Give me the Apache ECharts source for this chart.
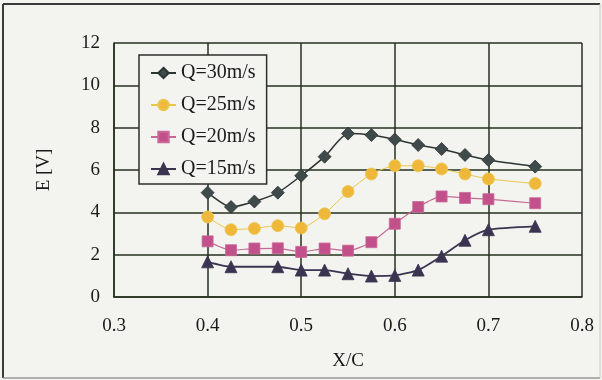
<!DOCTYPE html>
<html>
<head>
<meta charset="utf-8">
<script src="https://cdn.jsdelivr.net/npm/echarts@6/dist/echarts.min.js"></script>
<style>
  html, body { margin: 0; padding: 0; background: #f3f3ef; }
  #chart { width: 602px; height: 380px; }
</style>
</head>
<body>
<div id="chart"></div>
<script>
// Chordwise position X/C
const xc30 = [0.4, 0.425, 0.45, 0.475, 0.5, 0.525, 0.55, 0.575, 0.6, 0.625, 0.65, 0.675, 0.7, 0.75];
const xc15 = [0.4, 0.425, 0.475, 0.5, 0.525, 0.55, 0.575, 0.6, 0.625, 0.65, 0.675, 0.7, 0.75];

// Output voltage E [V] for each flow speed
const e30 = [4.93, 4.25, 4.51, 4.93, 5.73, 6.63, 7.72, 7.65, 7.44, 7.18, 6.99, 6.71, 6.47, 6.16];
const e25 = [3.78, 3.18, 3.24, 3.37, 3.26, 3.93, 4.98, 5.81, 6.20, 6.20, 6.05, 5.81, 5.58, 5.36];
const e20 = [2.63, 2.21, 2.29, 2.30, 2.13, 2.29, 2.19, 2.59, 3.46, 4.25, 4.75, 4.68, 4.62, 4.43];
const e15 = [1.66, 1.43, 1.43, 1.27, 1.27, 1.10, 0.99, 1.02, 1.27, 1.93, 2.68, 3.18, 3.34];

const seriesNames = ['Q=30m/s', 'Q=25m/s', 'Q=20m/s', 'Q=15m/s'];
const yTicks = [0, 2, 4, 6, 8, 10, 12];
const xTicks = [0.3, 0.4, 0.5, 0.6, 0.7, 0.8];

const pair = (xs, ys) => xs.map((x, i) => [x, ys[i]]);

const gridColor = '#25301f';
const font = '"Liberation Serif", "DejaVu Serif", serif';

const chart = echarts.init(document.getElementById('chart'), null, { renderer: 'canvas' });

function lineSeries(name, data, symbol, size, color, lineColor, lineWidth) {
  return {
    name: name,
    type: 'line',
    data: data,
    symbol: symbol,
    symbolSize: size,
    smooth: 0.2,
    lineStyle: { color: lineColor, width: lineWidth },
    itemStyle: { color: color, borderColor: lineColor, borderWidth: 0.8 },
    emphasis: { disabled: true },
    animation: false
  };
}

chart.setOption({
  backgroundColor: '#f3f3ef',
  animation: false,
  grid: { left: 114, right: 20, top: 43, bottom: 83 },
  graphic: [
    { type: 'line', shape: { x1: 3, y1: 4, x2: 600, y2: 4 }, style: { stroke: '#3a3a3a', lineWidth: 2 } },
    { type: 'line', shape: { x1: 3, y1: 4, x2: 3, y2: 378 }, style: { stroke: '#3a3a3a', lineWidth: 2 } },
    { type: 'line', shape: { x1: 3, y1: 378, x2: 600, y2: 378 }, style: { stroke: '#9a9a9a', lineWidth: 1.5 } },
    { type: 'line', shape: { x1: 600, y1: 4, x2: 600, y2: 378 }, style: { stroke: '#c8c8c8', lineWidth: 1 } }
  ],
  legend: {
    data: seriesNames,
    orient: 'vertical',
    left: 139,
    top: 55,
    itemWidth: 25,
    itemHeight: 13,
    itemGap: 12,
    padding: [8, 11, 5, 11],
    backgroundColor: '#f3f3ef',
    borderColor: '#2e2e2e',
    borderWidth: 1.5,
    borderRadius: 0,
    textStyle: { fontFamily: font, fontSize: 20, color: '#1a1a1a', lineHeight: 20 }
  },
  xAxis: {
    type: 'value',
    min: 0.3,
    max: 0.8,
    interval: 0.1,
    name: 'X/C',
    nameLocation: 'middle',
    nameGap: 55,
    nameTextStyle: { fontFamily: font, fontSize: 19, color: '#1a1a1a' },
    axisLine: { show: true, lineStyle: { color: gridColor, width: 1.5 } },
    axisTick: { show: false },
    axisLabel: {
      fontFamily: font, fontSize: 19, color: '#1a1a1a', margin: 20,
      formatter: v => xTicks.find(t => Math.abs(t - v) < 1e-6).toFixed(1)
    },
    splitLine: { show: true, lineStyle: { color: gridColor, width: 1.5 } }
  },
  yAxis: {
    type: 'value',
    min: 0,
    max: 12,
    interval: 2,
    name: 'E [V]',
    nameLocation: 'middle',
    nameGap: 60,
    nameTextStyle: { fontFamily: font, fontSize: 19, color: '#1a1a1a' },
    axisLine: { show: true, lineStyle: { color: gridColor, width: 1.5 } },
    axisTick: { show: false },
    axisLabel: {
      fontFamily: font, fontSize: 19, color: '#1a1a1a', margin: 14,
      formatter: v => String(yTicks.find(t => t === v))
    },
    splitLine: { show: true, lineStyle: { color: gridColor, width: 1.5 } }
  },
  series: [
    lineSeries(seriesNames[0], pair(xc30, e30), 'diamond', 13, '#3f4b4a', '#2c3434', 1.5),
    lineSeries(seriesNames[1], pair(xc30, e25), 'circle', 12, '#f0b83a', '#e8c84a', 1),
    lineSeries(seriesNames[2], pair(xc30, e20), 'rect', 11, '#c2508a', '#c86a98', 1.2),
    lineSeries(seriesNames[3], pair(xc15, e15), 'triangle', 12, '#3b3450', '#3b3450', 1.8)
  ]
});
</script>
</body>
</html>
